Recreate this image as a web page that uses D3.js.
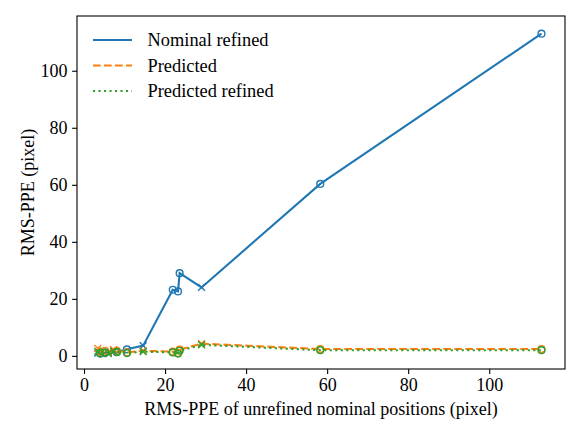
<!DOCTYPE html>
<html>
<head>
<meta charset="utf-8">
<script src="https://cdn.jsdelivr.net/npm/d3@7"></script>
<style>
  body { margin: 0; background: #fff; }
  text { font-family: "Liberation Serif", "DejaVu Serif", serif; fill: #000; }
</style>
</head>
<body>
<svg id="chart" width="581" height="436"></svg>
<script>
// data
const xVals = [3.4, 4.0, 5.2, 6.0, 7.3, 8.1, 10.6, 14.6, 21.9, 23.2, 23.6, 29.0, 58.3, 112.9];
const markerType = ["x", "o", "o", "x", "x", "o", "o", "x", "o", "o", "o", "x", "o", "o"];
const nominalRefined = [1.0, 0.8, 1.0, 1.2, 1.5, 1.3, 2.3, 3.6, 23.2, 22.6, 29.0, 24.0, 60.3, 113.0];
const predicted = [2.6, 1.5, 1.8, 1.2, 2.2, 1.8, 1.2, 1.8, 1.5, 1.0, 2.2, 4.3, 2.4, 2.4];
const predictedRefined = [1.6, 0.9, 1.2, 0.8, 1.7, 1.4, 1.0, 1.5, 1.2, 0.8, 1.8, 3.9, 2.0, 2.0];
const xTicks = [0, 20, 40, 60, 80, 100];
const yTicks = [0, 20, 40, 60, 80, 100];

const series = [
  { name: "Nominal refined", values: nominalRefined, color: "#1f77b4", dash: null },
  { name: "Predicted", values: predicted, color: "#ff7f0e", dash: "7.7,3.3" },
  { name: "Predicted refined", values: predictedRefined, color: "#2ca02c", dash: "2.1,3.4" }
];

const mLeft = 77, mRight = 565, mTop = 16, mBottom = 369;
const svg = d3.select("#chart");

const x = d3.scaleLinear().domain([-1.73, 118.7]).range([mLeft, mRight]);
const y = d3.scaleLinear().domain([-4.6, 119.2]).range([mBottom, mTop]);

// axes
const xAxis = svg.append("g")
  .attr("transform", "translate(0," + mBottom + ")")
  .call(d3.axisBottom(x).tickValues(xTicks).tickSize(4.9).tickPadding(4.5));
const yAxis = svg.append("g")
  .attr("transform", "translate(" + mLeft + ",0)")
  .call(d3.axisLeft(y).tickValues(yTicks).tickSize(4.9).tickPadding(4.5));
[xAxis, yAxis].forEach(a => {
  a.select(".domain").remove();
  a.selectAll("line").attr("stroke", "#000").attr("stroke-width", 1.1);
  a.selectAll("text").style("font-family", "Liberation Serif").style("font-size", "18px").attr("fill", "#000");
});

// frame
svg.append("rect")
  .attr("x", mLeft).attr("y", mTop)
  .attr("width", mRight - mLeft).attr("height", mBottom - mTop)
  .attr("fill", "none").attr("stroke", "#000").attr("stroke-width", 1.1);

// lines and markers
const line = d3.line().x(d => x(d[0])).y(d => y(d[1]));
series.forEach(s => {
  const pts = xVals.map((v, i) => [v, s.values[i], markerType[i]]);
  svg.append("path")
    .datum(pts)
    .attr("d", line)
    .attr("fill", "none")
    .attr("stroke", s.color)
    .attr("stroke-width", 2.1)
    .attr("stroke-dasharray", s.dash);
  const g = svg.append("g");
  pts.forEach(p => {
    const cx = x(p[0]), cy = y(p[1]);
    if (p[2] === "o") {
      g.append("circle").attr("cx", cx).attr("cy", cy).attr("r", 3.4)
        .attr("fill", "none").attr("stroke", s.color).attr("stroke-width", 1.4);
    } else {
      const r = 3.4;
      g.append("path")
        .attr("d", `M${cx - r},${cy - r}L${cx + r},${cy + r}M${cx - r},${cy + r}L${cx + r},${cy - r}`)
        .attr("stroke", s.color).attr("stroke-width", 1.4);
    }
  });
});

// axis labels
svg.append("text")
  .attr("x", (mLeft + mRight) / 2).attr("y", 415)
  .attr("text-anchor", "middle").style("font-size", "18px")
  .text("RMS-PPE of unrefined nominal positions (pixel)");
svg.append("text")
  .attr("transform", "translate(34," + (mTop + mBottom) / 2 + ") rotate(-90)")
  .attr("text-anchor", "middle").style("font-size", "18px")
  .text("RMS-PPE (pixel)");

// legend
const legend = svg.append("g");
series.forEach((s, i) => {
  const ly = 40 + i * 25.5;
  legend.append("line")
    .attr("x1", 93).attr("x2", 132).attr("y1", ly).attr("y2", ly)
    .attr("stroke", s.color).attr("stroke-width", 2.1)
    .attr("stroke-dasharray", s.dash);
  legend.append("text")
    .attr("x", 147.5).attr("y", ly + 6.3)
    .style("font-size", "18.4px")
    .text(s.name);
});
</script>
</body>
</html>
